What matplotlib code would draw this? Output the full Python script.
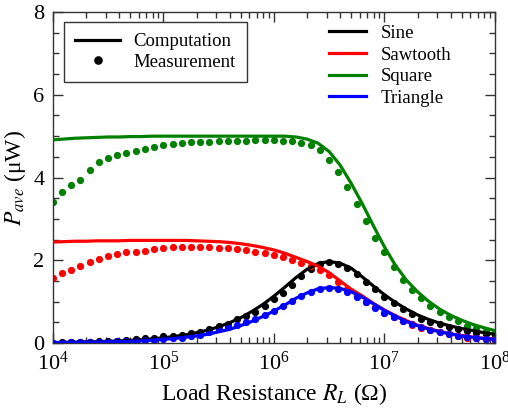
import numpy as np
import matplotlib
matplotlib.use("Agg")
import matplotlib.pyplot as plt
from matplotlib.lines import Line2D
from matplotlib.ticker import MultipleLocator, LogLocator, NullFormatter

plt.rcParams["font.family"] = ["Liberation Serif", "DejaVu Serif"]
plt.rcParams["mathtext.fontset"] = "stix"

# ───────── measured points: 12 per decade, 10^4 .. 10^8 ─────────
meas_exp = [4 + k / 12 for k in range(49)]

meas_sine = [0.01, 0.02, 0.02, 0.03, 0.03, 0.04, 0.05, 0.06, 0.07, 0.09, 0.11, 0.13,
             0.16, 0.18, 0.20, 0.23, 0.27, 0.33, 0.40, 0.47, 0.57, 0.66, 0.76, 0.90,
             1.06, 1.22, 1.40, 1.62, 1.80, 1.92, 1.95, 1.92, 1.82, 1.67, 1.48, 1.30,
             1.12, 0.97, 0.83, 0.70, 0.59, 0.51, 0.45, 0.39, 0.34, 0.29, 0.25, 0.22, 0.19]
meas_saw = [1.57, 1.69, 1.77, 1.86, 1.97, 2.03, 2.11, 2.16, 2.19, 2.21, 2.23, 2.27,
            2.29, 2.32, 2.32, 2.32, 2.32, 2.32, 2.29, 2.29, 2.27, 2.25, 2.21, 2.17,
            2.13, 2.08, 2.01, 1.93, 1.85, 1.77, 1.65, 1.48, 1.30, 1.14, 1.00, 0.86,
            0.73, 0.62, 0.52, 0.44, 0.37, 0.31, 0.26, 0.21, 0.17, 0.13, 0.11, 0.09, 0.08]
meas_square = [3.40, 3.66, 3.82, 3.95, 4.19, 4.38, 4.46, 4.54, 4.59, 4.65, 4.70, 4.75,
               4.79, 4.81, 4.83, 4.86, 4.86, 4.86, 4.89, 4.89, 4.89, 4.89, 4.91, 4.91,
               4.91, 4.89, 4.89, 4.84, 4.79, 4.67, 4.43, 4.14, 3.76, 3.37, 2.94, 2.53,
               2.19, 1.83, 1.53, 1.28, 1.08, 0.90, 0.76, 0.64, 0.52, 0.42, 0.36, 0.30, 0.25]
meas_tri = [0.01, 0.01, 0.02, 0.02, 0.02, 0.03, 0.03, 0.04, 0.05, 0.06, 0.07, 0.08,
            0.09, 0.11, 0.13, 0.16, 0.19, 0.27, 0.33, 0.38, 0.44, 0.51, 0.58, 0.68,
            0.78, 0.90, 1.01, 1.14, 1.24, 1.30, 1.33, 1.30, 1.23, 1.12, 0.99, 0.85,
            0.73, 0.63, 0.53, 0.45, 0.38, 0.32, 0.26, 0.21, 0.17, 0.14, 0.11, 0.09, 0.08]

# ───────── computed curves: every 0.1 decade ─────────
comp_exp = [4 + k / 10 for k in range(41)]

comp_sine = [0.01, 0.016, 0.02, 0.025, 0.031, 0.039, 0.05, 0.062, 0.079, 0.099, 0.125,
             0.157, 0.197, 0.248, 0.31, 0.39, 0.49, 0.61, 0.76, 0.93, 1.13, 1.35, 1.58,
             1.78, 1.92, 1.97, 1.93, 1.81, 1.60, 1.38, 1.17, 0.98, 0.82, 0.68, 0.57,
             0.48, 0.41, 0.35, 0.30, 0.25, 0.21]
comp_saw = [2.44, 2.45, 2.46, 2.46, 2.47, 2.47, 2.47, 2.48, 2.48, 2.48, 2.48, 2.48,
            2.48, 2.47, 2.46, 2.45, 2.43, 2.40, 2.36, 2.31, 2.25, 2.17, 2.07, 1.97,
            1.86, 1.70, 1.50, 1.30, 1.14, 0.96, 0.80, 0.66, 0.54, 0.43, 0.35, 0.28,
            0.22, 0.18, 0.14, 0.11, 0.09]
comp_square = [4.91, 4.93, 4.95, 4.96, 4.97, 4.98, 4.98, 4.99, 4.99, 5.00, 5.00, 5.00,
               5.00, 5.00, 5.00, 5.00, 5.00, 5.00, 5.00, 5.00, 5.00, 5.00, 4.98, 4.93,
               4.83, 4.63, 4.30, 3.86, 3.37, 2.84, 2.33, 1.88, 1.52, 1.24, 1.01, 0.82,
               0.67, 0.55, 0.45, 0.37, 0.30]
comp_tri = [0.01, 0.01, 0.01, 0.02, 0.02, 0.03, 0.03, 0.04, 0.05, 0.07, 0.09, 0.11,
            0.14, 0.17, 0.21, 0.27, 0.33, 0.42, 0.52, 0.64, 0.77, 0.92, 1.08, 1.21,
            1.31, 1.34, 1.32, 1.24, 1.11, 0.95, 0.79, 0.65, 0.52, 0.42, 0.34, 0.27,
            0.22, 0.17, 0.14, 0.11, 0.09]

names = ["Sine", "Sawtooth", "Square", "Triangle"]
colors = ["black", "red", "green", "blue"]
meas = [meas_sine, meas_saw, meas_square, meas_tri]
comp = [comp_sine, comp_saw, comp_square, comp_tri]

r_meas = 10.0 ** np.array(meas_exp)
r_comp = 10.0 ** np.array(comp_exp)

fig = plt.figure(figsize=(5.08, 4.16), dpi=100)
ax = fig.add_axes([0.104, 0.1755, 0.870, 0.7955])

# points first, lines on top
for y, c in zip(meas, colors):
    ax.plot(r_meas, y, "o", color=c, ms=5.2, mec="none", zorder=2)

lines = []
for y, c, n in zip(comp, colors, names):
    ln, = ax.plot(r_comp, y, "-", color=c, lw=2.3, label=n, zorder=3)
    lines.append(ln)

ax.set_xscale("log")
ax.set_xlim(1e4, 1e8)
ax.set_ylim(0, 8)
ax.yaxis.set_major_locator(MultipleLocator(2))
ax.yaxis.set_minor_locator(MultipleLocator(0.5))
ax.xaxis.set_major_locator(LogLocator(base=10, numticks=10))
ax.xaxis.set_minor_locator(LogLocator(base=10, subs=np.arange(2, 10), numticks=20))
ax.xaxis.set_minor_formatter(NullFormatter())
ax.tick_params(which="both", direction="in", top=True, right=True, labelsize=16,
               width=1.0, color="#333333")
ax.tick_params(which="major", length=7, pad=6)
ax.tick_params(which="minor", length=4)
for s in ax.spines.values():
    s.set_linewidth(1.0)
    s.set_color("#333333")

ax.set_xlabel("Load Resistance $R_L$ (Ω)", fontsize=17, labelpad=5)
ax.set_ylabel("$P_{ave}$ (μW)", fontsize=17, labelpad=4)

# legend 1: line style meaning
style_handles = [Line2D([], [], color="black", lw=2.3),
                 Line2D([], [], color="black", ls="none", marker="o", ms=5.2)]
leg1 = ax.legend(style_handles, ["Computation", "Measurement"], loc="upper left",
                 bbox_to_anchor=(0.025, 0.970), borderaxespad=0, fontsize=13.5,
                 fancybox=False, edgecolor="#333333", framealpha=1, handlelength=2.4,
                 borderpad=0.6, labelspacing=0.18, handletextpad=0.7)
leg1.get_frame().set_linewidth(1.0)
ax.add_artist(leg1)

# legend 2: waveforms
ax.legend(lines, names, loc="upper left", bbox_to_anchor=(0.607, 0.984),
          borderaxespad=0, fontsize=13.5, frameon=False, handlelength=2.0,
          labelspacing=0.24, handletextpad=0.8)

fig.savefig("out.png", dpi=100)
